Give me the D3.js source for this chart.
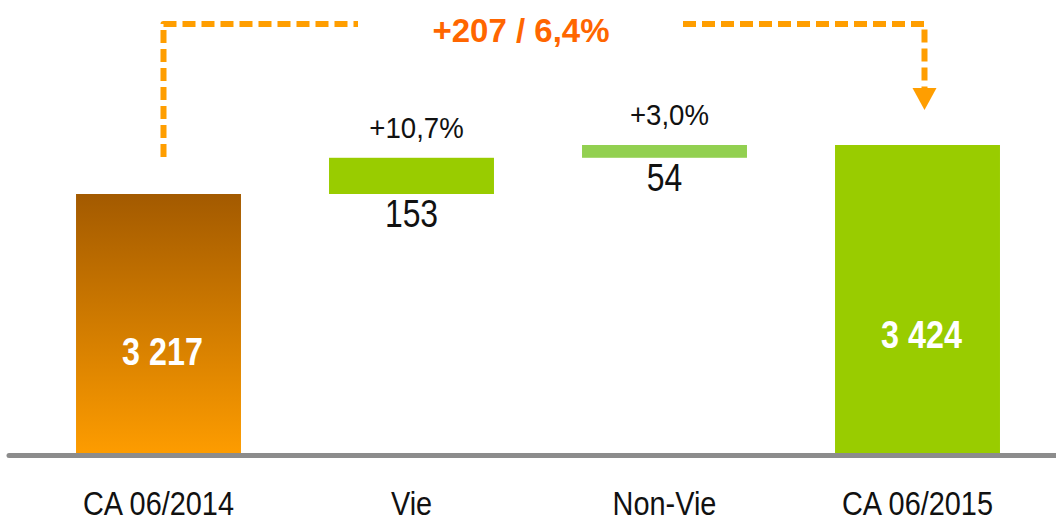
<!DOCTYPE html>
<html>
<head>
<meta charset="utf-8"/>
<script src="https://cdn.jsdelivr.net/npm/d3@7"></script>
<title>CA 06/2014 - 06/2015</title>
<style>
body { margin: 0; background: #fff; }
svg { display: block; }
text { font-family: "Liberation Sans", Arial, sans-serif; }
</style>
</head>
<body>
<script>
// waterfall data
var categories = ["CA 06/2014", "Vie", "Non-Vie", "CA 06/2015"];
var values = [3217, 153, 54, 3424];
var kinds = ["total", "delta", "delta", "total"];
var valueLabels = ["3 217", "153", "54", "3 424"];
var growthLabels = ["", "+10,7%", "+3,0%", ""];
var summaryLabel = "+207 / 6,4%";
var barColors = ["url(#gradOrange)", "#99cc00", "#92d050", "#99cc00"];

var W = 1056, H = 522;
var svg = d3.select("body").append("svg")
  .attr("width", W).attr("height", H);

// gradient for first bar
var defs = svg.append("defs");
var g = defs.append("linearGradient").attr("id", "gradOrange")
  .attr("x1", 0).attr("y1", 0).attr("x2", 0).attr("y2", 1);
g.append("stop").attr("offset", "0%").attr("stop-color", "#a35a00");
g.append("stop").attr("offset", "100%").attr("stop-color", "#fd9c00");

// running totals
var rows = [];
var run = 0;
categories.forEach(function(c, i) {
  var v = values[i], start, end;
  if (kinds[i] == "total") { start = null; end = v; run = v; }
  else { start = run; end = run + v; run = end; }
  rows.push({cat: c, value: v, kind: kinds[i], start: start, end: end, i: i});
});

// axis is cut (bars do not start at zero)
var yBase = 2123;
var x = d3.scaleBand().domain(categories).range([32, 1044])
  .paddingInner(0.348).paddingOuter(0.174);
var y = d3.scaleLinear().domain([yBase, 3424]).range([453, 145]);
var cx = function(d) { return x(d.cat) + x.bandwidth() / 2; };

// narrow text: squeeze a normal font horizontally
function narrow(sel, fx, fy, sx) {
  sel.attr("text-anchor", "middle")
    .attr("transform", function(d) { return "translate(" + fx(d) + "," + fy(d) + ") scale(" + sx + ",1)"; });
  return sel;
}

// bars
svg.selectAll("rect.bar").data(rows).enter().append("rect")
  .attr("class", "bar")
  .attr("x", function(d) { return x(d.cat); })
  .attr("width", x.bandwidth())
  .attr("y", function(d) { return y(d.end); })
  .attr("height", function(d) { return (d.kind == "total" ? y(yBase) : y(d.start)) - y(d.end); })
  .attr("fill", function(d, i) { return barColors[i]; });

// baseline
svg.append("line")
  .attr("x1", 9).attr("x2", W).attr("y1", 455.5).attr("y2", 455.5)
  .attr("stroke", "#8c8c8c").attr("stroke-width", 5).attr("stroke-linecap", "round");

// category labels
narrow(svg.selectAll("text.cat").data(rows).enter().append("text").attr("class", "cat"),
  cx, function() { return 515; }, 0.85)
  .attr("font-size", 34)
  .attr("fill", "#111")
  .text(function(d) { return d.cat; });

// totals inside the bars
narrow(svg.selectAll("text.tot").data(rows.filter(function(d) { return d.kind == "total"; })).enter().append("text").attr("class", "tot"),
  function(d) { return cx(d) + 4; },
  function(d) { return y(d.end) + (y(yBase) - y(d.end)) * 0.66; }, 0.85)
  .attr("font-size", 38).attr("font-weight", "bold")
  .attr("fill", "#fff")
  .text(function(d) { return valueLabels[d.i]; });

// deltas: value below, growth above
var deltas = rows.filter(function(d) { return d.kind == "delta"; });
narrow(svg.selectAll("text.dv").data(deltas).enter().append("text").attr("class", "dv"),
  cx, function(d) { return y(d.start) + 33; }, 0.84)
  .attr("font-size", 38)
  .attr("fill", "#111")
  .text(function(d) { return valueLabels[d.i]; });

narrow(svg.selectAll("text.gr").data(deltas).enter().append("text").attr("class", "gr"),
  function(d) { return cx(d) + 5; }, function(d) { return y(d.end) - 20; }, 0.92)
  .attr("font-family", "'Open Sans', sans-serif")
  .attr("font-size", 30)
  .attr("fill", "#111")
  .text(function(d) { return growthLabels[d.i]; });

// dashed connector with arrow
var xa = x(categories[0]) + x.bandwidth() / 2 + 5;
var xb = x(categories[3]) + x.bandwidth() / 2 + 7;
var topY = 24;
var dash = {"stroke": "#ff9e00", "stroke-width": 6, "fill": "none",
            "stroke-dasharray": "13 6", "stroke-linejoin": "round"};
var p1 = svg.append("path")
  .attr("d", "M" + xa + "," + (y(values[0]) - 37) + "V" + topY + "H" + 358);
var p2 = svg.append("path")
  .attr("d", "M" + 683 + "," + topY + "H" + xb + "V" + 90);
[p1, p2].forEach(function(p) {
  for (var k in dash) p.attr(k, dash[k]);
});
svg.append("path")
  .attr("d", "M" + (xb - 12) + ",88L" + (xb + 12) + ",88L" + xb + ",110Z")
  .attr("fill", "#ff9e00");

// summary
svg.append("text")
  .attr("x", 521).attr("y", 42)
  .attr("text-anchor", "middle")
  .attr("font-size", 33).attr("font-weight", "bold")
  .attr("fill", "#ff6600")
  .text(summaryLabel);
</script>
</body>
</html>
